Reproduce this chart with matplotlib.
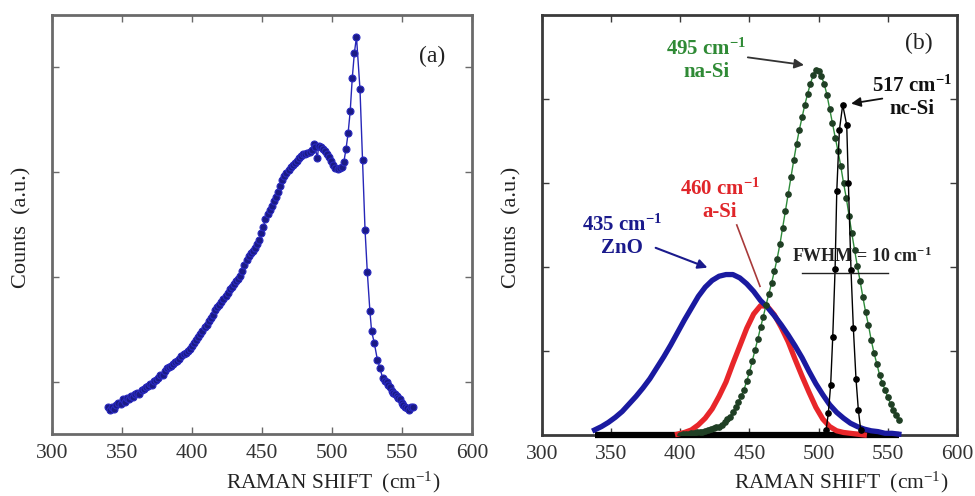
#RAMAN SPECTRUM OF THE ZnO / Si FILM AND ITS PEAK DECOMPOSITION
#Left panel (a) is the measured spectrum, right panel (b) shows the
#fitted components: ZnO, a-Si, na-Si and nc-Si.

import matplotlib.pyplot as plt

plt.rcParams['font.family'] = ['Liberation Serif', 'DejaVu Serif']
plt.rcParams['mathtext.fontset'] = 'custom'
plt.rcParams['mathtext.rm'] = 'Liberation Serif'
plt.rcParams['mathtext.bf'] = 'Liberation Serif:bold'
plt.rcParams['mathtext.default'] = 'regular'

#MEASURED SPECTRUM (a)
shift_a = [340.0, 341.5, 343.0, 344.5, 346.0, 347.5, 349.0, 350.5, 352.0, 353.5,
           355.0, 356.5, 358.0, 359.5, 361.0, 362.5, 364.0, 365.5, 367.0, 368.5,
           370.0, 371.5, 373.0, 374.5, 376.0, 377.5, 379.0, 380.5, 382.0, 383.5,
           385.0, 386.5, 388.0, 389.5, 391.0, 392.5, 394.0, 395.5, 397.0, 398.5,
           400.0, 401.5, 403.0, 404.5, 406.0, 407.5, 409.0, 410.5, 412.0, 413.5,
           415.0, 416.5, 418.0, 419.5, 421.0, 422.5, 424.0, 425.5, 427.0, 428.5,
           430.0, 431.5, 433.0, 434.5, 436.0, 437.5, 439.0, 440.5, 442.0, 443.5,
           445.0, 446.5, 448.0, 449.5, 451.0, 452.5, 454.0, 455.5, 457.0, 458.5,
           460.0, 461.5, 463.0, 464.5, 466.0, 467.5, 469.0, 470.5, 472.0, 473.5,
           475.0, 476.5, 478.0, 479.5, 481.0, 482.5, 484.0, 485.5, 487.0, 488.0,
           489.5, 490.5, 492.0, 493.5, 495.0, 496.5, 498.0, 499.5, 501.0, 502.5,
           504.0, 505.5, 507.0, 508.5, 510.0, 511.5, 513.0, 514.5, 516.0, 517.5,
           520.0, 521.8, 523.6, 525.2, 527.1, 528.3, 530.2, 532.4, 534.3, 536.2,
           537.6, 539.0, 540.2, 541.4, 542.6, 543.8, 545.0, 546.2, 547.4, 548.6,
           549.8, 550.9, 552.2, 553.4, 554.8, 556.2, 557.6]
counts_a = [0.76, 0.73, 0.76, 0.74, 0.78, 0.80, 0.79, 0.83, 0.81, 0.84,
            0.83, 0.86, 0.85, 0.88, 0.89, 0.88, 0.92, 0.93, 0.95, 0.96,
            0.98, 0.97, 1.01, 1.02, 1.03, 1.06, 1.06, 1.10, 1.13, 1.14,
            1.15, 1.17, 1.19, 1.20, 1.22, 1.24, 1.26, 1.27, 1.29, 1.31,
            1.34, 1.37, 1.40, 1.43, 1.45, 1.48, 1.52, 1.54, 1.58, 1.61,
            1.64, 1.68, 1.71, 1.73, 1.76, 1.79, 1.82, 1.85, 1.88, 1.90,
            1.93, 1.96, 1.98, 2.01, 2.06, 2.11, 2.16, 2.20, 2.23, 2.25,
            2.28, 2.31, 2.35, 2.42, 2.48, 2.55, 2.60, 2.64, 2.68, 2.72,
            2.76, 2.81, 2.87, 2.92, 2.96, 2.99, 3.02, 3.05, 3.07, 3.09,
            3.11, 3.13, 3.15, 3.17, 3.17, 3.18, 3.19, 3.21, 3.27, 3.24,
            3.13, 3.25, 3.24, 3.22, 3.20, 3.17, 3.14, 3.11, 3.07, 3.04,
            3.03, 3.04, 3.05, 3.10, 3.22, 3.37, 3.58, 3.90, 4.14, 4.29,
            3.79, 3.12, 2.45, 2.05, 1.67, 1.48, 1.37, 1.21, 1.13, 1.03,
            1.01, 1.00, 0.97, 0.95, 0.91, 0.89, 0.88, 0.86, 0.84, 0.83,
            0.80, 0.78, 0.76, 0.75, 0.73, 0.76, 0.76]

#FITTED COMPONENTS (b)
zno_x = [338, 343, 348, 353, 358, 363, 368, 373, 378, 383, 388, 393, 398, 403,
         408, 413, 418, 423, 428, 433, 438, 443, 448, 453, 458, 463, 468, 473,
         478, 483, 488, 493, 498, 503, 508, 513, 518, 523, 528, 533, 538, 543,
         548, 553, 558]
zno_y = [0.06, 0.10, 0.15, 0.21, 0.28, 0.37, 0.46, 0.56, 0.67, 0.80, 0.93, 1.07,
         1.22, 1.37, 1.51, 1.65, 1.76, 1.84, 1.89, 1.91, 1.91, 1.87, 1.80, 1.71,
         1.60, 1.52, 1.42, 1.31, 1.19, 1.06, 0.92, 0.76, 0.61, 0.48, 0.36, 0.27,
         0.20, 0.14, 0.10, 0.07, 0.05, 0.04, 0.02, 0.02, 0.01]

asi_x = [398, 403, 408, 413, 418, 423, 428, 433, 438, 443, 448, 453, 458, 463,
         468, 473, 478, 483, 488, 493, 498, 503, 508, 513, 518, 523, 528, 533]
asi_y = [0.01, 0.03, 0.06, 0.12, 0.20, 0.31, 0.46, 0.63, 0.85, 1.06, 1.27, 1.44,
         1.54, 1.53, 1.43, 1.28, 1.11, 0.90, 0.70, 0.51, 0.33, 0.19, 0.10, 0.05,
         0.03, 0.02, 0.01, 0.00]

nasi_x = [400, 402, 404, 406, 408, 410, 412, 414, 416, 418, 420, 422, 424, 426,
          428, 430, 432, 434, 436, 438, 440, 442, 444, 446, 448, 450, 452, 454,
          456, 458, 460, 462, 464, 466, 468, 470, 472, 474, 476, 478, 480, 482,
          484, 486, 488, 490, 492, 494, 496, 498, 500, 502, 504, 506, 508, 510,
          512, 514, 516, 518, 520, 522, 524, 526, 528, 530, 532, 534, 536, 538,
          540, 542, 544, 546, 548, 550, 552, 554, 556, 558]
nasi_y = [0.00, 0.01, 0.01, 0.01, 0.02, 0.02, 0.03, 0.03, 0.04, 0.05, 0.06, 0.07,
          0.08, 0.09, 0.10, 0.12, 0.15, 0.19, 0.22, 0.27, 0.33, 0.39, 0.46, 0.54,
          0.64, 0.75, 0.88, 1.01, 1.14, 1.28, 1.41, 1.55, 1.68, 1.81, 1.95, 2.10,
          2.27, 2.47, 2.67, 2.87, 3.07, 3.27, 3.46, 3.63, 3.78, 3.93, 4.06, 4.18,
          4.28, 4.34, 4.33, 4.27, 4.18, 4.05, 3.88, 3.71, 3.54, 3.38, 3.20, 3.00,
          2.82, 2.61, 2.40, 2.20, 2.01, 1.83, 1.64, 1.46, 1.31, 1.13, 0.98, 0.85,
          0.72, 0.62, 0.54, 0.45, 0.37, 0.30, 0.24, 0.18]

ncsi_x = [338, 503.5, 505.4, 507.0, 508.7, 510.2, 511.9, 513.1, 515.0, 517.4,
          520.3, 521.5, 523.4, 525.1, 527.0, 528.7, 530.4, 558]
ncsi_y = [0, 0, 0.06, 0.26, 0.60, 1.17, 1.98, 2.90, 3.63, 3.93,
          3.69, 3.00, 1.96, 1.27, 0.67, 0.30, 0.06, 0]

#half maximum of the nc-Si peak, drawn as a bar under the FWHM note
fwhm_bar = [487.8, 550.4]
fwhm_level = 1.93

xticks = [300, 350, 400, 450, 500, 550, 600]
xlabel = r'RAMAN SHIFT  (cm$^{-1}$)'
ylabel = 'Counts  (a.u.)'


def style_axes(ax, spine_col):
    ax.set_xlim(300, 600)
    ax.set_xticks(xticks)
    ax.tick_params(axis='both', direction='in', top=True, right=True,
                   length=5, width=1, color=spine_col, labelsize=15.5,
                   labelcolor='#333333', pad=7)
    ax.tick_params(axis='y', labelleft=False)
    for sp in ax.spines.values():
        sp.set_color(spine_col)
        sp.set_linewidth(2)


fig = plt.figure(figsize=(9.75, 4.96), dpi=100)

#PANEL (a)
ax1 = fig.add_axes([0.0533, 0.125, 0.4308, 0.8448])
ax1.plot(shift_a, counts_a, '-', color='#2626b8', lw=1.0,
         marker='o', ms=5, mfc='#1a1a86', mec='#2a2ac0', mew=0.8)
ax1.set_ylim(0.5, 4.5)
ax1.set_yticks([1, 2, 3, 4])
style_axes(ax1, '#6a6a6a')
ax1.set_xlabel(xlabel, fontsize=15.5, va='center', color='#222222')
ax1.xaxis.set_label_coords(0.669, -0.116)
ax1.set_ylabel(ylabel, fontsize=16, va='center', color='#222222')
ax1.yaxis.set_label_coords(-0.071, 0.492)
ax1.text(0.905, 0.90, '(a)', transform=ax1.transAxes, fontsize=17,
         ha='center', va='center', color='#222222')

#PANEL (b)
ax2 = fig.add_axes([0.5559, 0.123, 0.4256, 0.8468])
ax2.plot([ncsi_x[0], ncsi_x[-1]], [0, 0], '-', color='black', lw=4.5,
         solid_capstyle='butt', zorder=2.6, clip_on=False)
ax2.plot(asi_x, asi_y, '-', color='#e8262a', lw=3.8, zorder=3,
         clip_on=False)
ax2.plot(zno_x, zno_y, '-', color='#1a1aa0', lw=3.8, zorder=4,
         clip_on=False)
ax2.plot(nasi_x, nasi_y, '-', color='#2e8b3a', lw=1.0, zorder=5,
         marker='o', ms=3.8, mfc='#1f3f24', mec='#1f3f24')
ax2.plot(ncsi_x[1:-1], ncsi_y[1:-1], '-', color='black', lw=1.0, zorder=6,
         marker='o', ms=3.8, mfc='black', mec='black')
ax2.plot(fwhm_bar, [fwhm_level, fwhm_level], '-', color='#222222', lw=1.0,
         zorder=6)
ax2.set_ylim(0, 5)
ax2.set_yticks([1, 2, 3, 4])
style_axes(ax2, '#3a3a3a')
ax2.set_xlabel(xlabel, fontsize=15.5, va='center', color='#222222')
ax2.xaxis.set_label_coords(0.720, -0.113)
ax2.set_ylabel(ylabel, fontsize=16, va='center', color='#222222')
ax2.yaxis.set_label_coords(-0.072, 0.495)
ax2.text(0.908, 0.933, '(b)', transform=ax2.transAxes, fontsize=17,
         ha='center', va='center', color='#222222')

#peak labels with their arrows
ax2.text(418.6, 4.46, '495 cm$^{\\mathbf{-1}}$\nna-Si', color='#2f8a35',
         fontsize=15, fontweight='bold', ha='center', va='center',
         linespacing=1.15)
ax2.annotate('', xy=(491.4, 4.40), xytext=(446.8, 4.50),
             arrowprops=dict(arrowstyle='-|>', color='#333333', lw=1.3,
                             mutation_scale=14))

ax2.text(567.5, 4.02, '517 cm$^{\\mathbf{-1}}$\nnc-Si', color='#111111',
         fontsize=15, fontweight='bold', ha='center', va='center',
         linespacing=1.15)
ax2.annotate('', xy=(521.5, 3.94), xytext=(548.0, 4.01),
             arrowprops=dict(arrowstyle='-|>', color='#111111', lw=1.3,
                             mutation_scale=14))

ax2.text(428.7, 2.79, '460 cm$^{\\mathbf{-1}}$\na-Si', color='#e0262a',
         fontsize=15, fontweight='bold', ha='center', va='center',
         linespacing=1.15)
ax2.plot([440.8, 457.6], [2.50, 1.77], '-', color='#a83a3a', lw=1.2, zorder=7)

ax2.text(357.8, 2.36, '435 cm$^{\\mathbf{-1}}$\nZnO', color='#1a1a8c',
         fontsize=15, fontweight='bold', ha='center', va='center',
         linespacing=1.15)
ax2.annotate('', xy=(421.5, 1.98), xytext=(380.3, 2.24),
             arrowprops=dict(arrowstyle='-|>', color='#1a1a8c', lw=1.5,
                             mutation_scale=14))

ax2.text(480.5, 2.13, 'FWHM = 10 cm$^{\\mathbf{-1}}$', color='#222222',
         fontsize=13, fontweight='bold', ha='left', va='center', zorder=8)

fig.savefig('out.png', dpi=100)
